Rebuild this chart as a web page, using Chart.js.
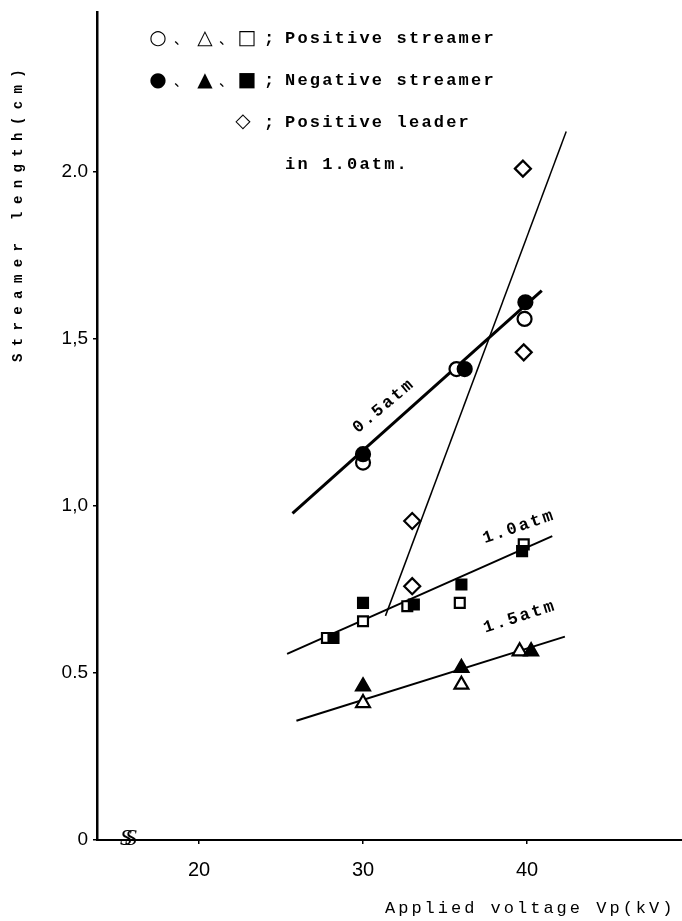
<!DOCTYPE html>
<html>
<head>
<meta charset="utf-8">
<script src="https://cdn.jsdelivr.net/npm/chart.js@4.4.1/dist/chart.umd.min.js"></script>
<style>
  html, body { margin: 0; padding: 0; background: #fff; }
  #wrap { width: 682px; height: 921px; }
</style>
</head>
<body>
<div id="wrap"><canvas id="chart" width="682" height="921"></canvas></div>
<script>
// measured points (kV, cm)
const posStreamer05 = [[30, 1.13], [35.7, 1.41], [39.85, 1.56]];
const negStreamer05 = [[30, 1.155], [36.2, 1.41], [39.9, 1.61]];
const posStreamer10 = [[27.8, 0.605], [30, 0.655], [32.7, 0.70], [35.9, 0.71], [39.8, 0.885]];
const negStreamer10 = [[28.2, 0.605], [30, 0.71], [33.1, 0.705], [36, 0.765], [39.7, 0.865]];
const posStreamer15 = [[30, 0.41], [36, 0.465], [39.55, 0.565]];
const negStreamer15 = [[30, 0.46], [36, 0.515], [40.25, 0.565]];
const posLeader10 = [[33, 0.955], [33, 0.76], [39.75, 2.01], [39.8, 1.46]];

// fitted lines, endpoints as drawn
const fit05 = [[25.7, 0.978], [40.9, 1.645]];
const fit10 = [[25.37, 0.557], [41.54, 0.91]];
const fit15 = [[25.94, 0.357], [42.31, 0.609]];
const fitLeader = [[31.37, 0.671], [42.39, 2.121]];

const xTicks = [20, 30, 40];
const yTicks = [0, 0.5, 1, 1.5, 2];
const yTickLabels = ['0', '0.5', '1,0', '1,5', '2.0'];

const toXY = arr => arr.map(p => ({x: p[0], y: p[1]}));

function markers(data, style, filled, size) {
    return {
        data: toXY(data),
        pointStyle: style,
        pointRadius: size,
        pointBorderWidth: 2.2,
        pointBorderColor: '#000',
        pointBackgroundColor: filled ? '#000' : '#fff',
        showLine: false
    };
}

function fitLine(data, width) {
    return {
        data: toXY(data),
        showLine: true,
        borderColor: '#000',
        borderWidth: width,
        pointRadius: 0,
        borderCapStyle: 'butt'
    };
}

const mono = '"Liberation Mono", "DejaVu Sans Mono", monospace';

function spacedText(ctx, text, x, y, font, spacing, align) {
    ctx.font = font;
    ctx.letterSpacing = spacing + 'px';
    ctx.textAlign = align || 'left';
    ctx.textBaseline = 'middle';
    ctx.fillText(text, x, y);
    ctx.letterSpacing = '0px';
}

const extraText = {
    id: 'extraText',
    afterDraw(chart) {
        const ctx = chart.ctx;
        ctx.save();
        ctx.fillStyle = '#000';

        // legend block
        const sym = 'bold 20px "DejaVu Sans", sans-serif';
        const cjk = '14px "Noto Sans CJK JP", sans-serif';
        const txt = 'bold 17px ' + mono;
        const rows = [
            {y: 39, syms: ['○', '△', '□'], text: 'Positive streamer'},
            {y: 81, syms: ['●', '▲', '■'], text: 'Negative streamer'}
        ];
        rows.forEach(r => {
            spacedText(ctx, r.syms[0], 158, r.y, sym, 0, 'center');
            spacedText(ctx, '、', 181, r.y, cjk, 0, 'center');
            spacedText(ctx, r.syms[1], 205, r.y, sym, 0, 'center');
            spacedText(ctx, '、', 226, r.y, cjk, 0, 'center');
            spacedText(ctx, r.syms[2], 247, r.y, sym, 0, 'center');
            spacedText(ctx, ';', 269, r.y, txt, 0, 'center');
            spacedText(ctx, r.text, 285, r.y, txt, 2.2);
        });
        spacedText(ctx, '◇', 243, 122, sym, 0, 'center');
        spacedText(ctx, ';', 269, 123, txt, 0, 'center');
        spacedText(ctx, 'Positive leader', 285, 123, txt, 2.2);
        spacedText(ctx, 'in 1.0atm.', 285, 165, txt, 2.2);

        // axis titles
        spacedText(ctx, 'Applied voltage Vp(kV)', 385, 908, '17px ' + mono, 3);
        ctx.save();
        ctx.translate(18, 212);
        ctx.rotate(-Math.PI / 2);
        spacedText(ctx, 'Streamer length(cm)', 0, 0, 'bold 14px ' + mono, 7.4, 'center');
        ctx.restore();

        // line labels
        const labels = [
            {t: '0.5atm', x: 384, y: 406, a: -40},
            {t: '1.0atm', x: 519, y: 527, a: -19},
            {t: '1.5atm', x: 520, y: 617, a: -18}
        ];
        labels.forEach(l => {
            ctx.save();
            ctx.translate(l.x, l.y);
            ctx.rotate(l.a * Math.PI / 180);
            spacedText(ctx, l.t, 0, 0, 'bold 17px ' + mono, 2.4, 'center');
            ctx.restore();
        });

        // axis break mark
        ctx.font = 'italic 24px "Liberation Serif", serif';
        ctx.textAlign = 'center';
        ctx.textBaseline = 'middle';
        ctx.fillText('S', 126, 839);
        ctx.fillText('S', 131, 839);
        ctx.restore();
    }
};

new Chart(document.getElementById('chart'), {
    type: 'scatter',
    data: {
        datasets: [
            markers(negStreamer05, 'circle', true, 7),
            markers(negStreamer10, 'rect', true, 7),
            markers(negStreamer15, 'triangle', true, 8),
            markers(posStreamer05, 'circle', false, 7),
            markers(posStreamer10, 'rect', false, 7),
            markers(posStreamer15, 'triangle', false, 8),
            markers(posLeader10, 'rectRot', false, 8),
            fitLine(fit05, 3),
            fitLine(fit10, 2),
            fitLine(fit15, 2),
            fitLine(fitLeader, 1.5)
        ]
    },
    options: {
        responsive: false,
        animation: false,
        layout: {autoPadding: false, padding: {top: 12, left: 0, right: 0, bottom: 0}},
        plugins: {
            legend: {display: false},
            tooltip: {enabled: false}
        },
        scales: {
            x: {
                type: 'linear',
                min: 13.78,
                max: 49.45,
                afterBuildTicks: scale => { scale.ticks = xTicks.map(v => ({value: v})); },
                afterFit: scale => {
                    scale.height = 81;
                    scale.paddingLeft = 0;
                    scale.paddingRight = 0;
                },
                border: {display: true, color: '#000', width: 2},
                grid: {drawOnChartArea: false, drawTicks: true, tickLength: 4, color: '#000', lineWidth: 1.5},
                ticks: {
                    color: '#000',
                    padding: 14,
                    maxRotation: 0,
                    font: {family: '"Liberation Sans", sans-serif', size: 20}
                }
            },
            y: {
                type: 'linear',
                min: 0,
                max: 2.479,
                afterBuildTicks: scale => { scale.ticks = yTicks.map(v => ({value: v})); },
                afterFit: scale => {
                    scale.width = 97;
                    scale.paddingTop = 0;
                    scale.paddingBottom = 0;
                },
                border: {display: true, color: '#000', width: 2.5},
                grid: {drawOnChartArea: false, drawTicks: true, tickLength: 4, color: '#000', lineWidth: 1.5},
                ticks: {
                    color: '#000',
                    padding: 5,
                    font: {family: '"Liberation Sans", sans-serif', size: 19},
                    callback: value => {
                        const i = yTicks.indexOf(value);
                        return i >= 0 ? yTickLabels[i] : '';
                    }
                }
            }
        }
    },
    plugins: [extraText]
});
</script>
</body>
</html>
